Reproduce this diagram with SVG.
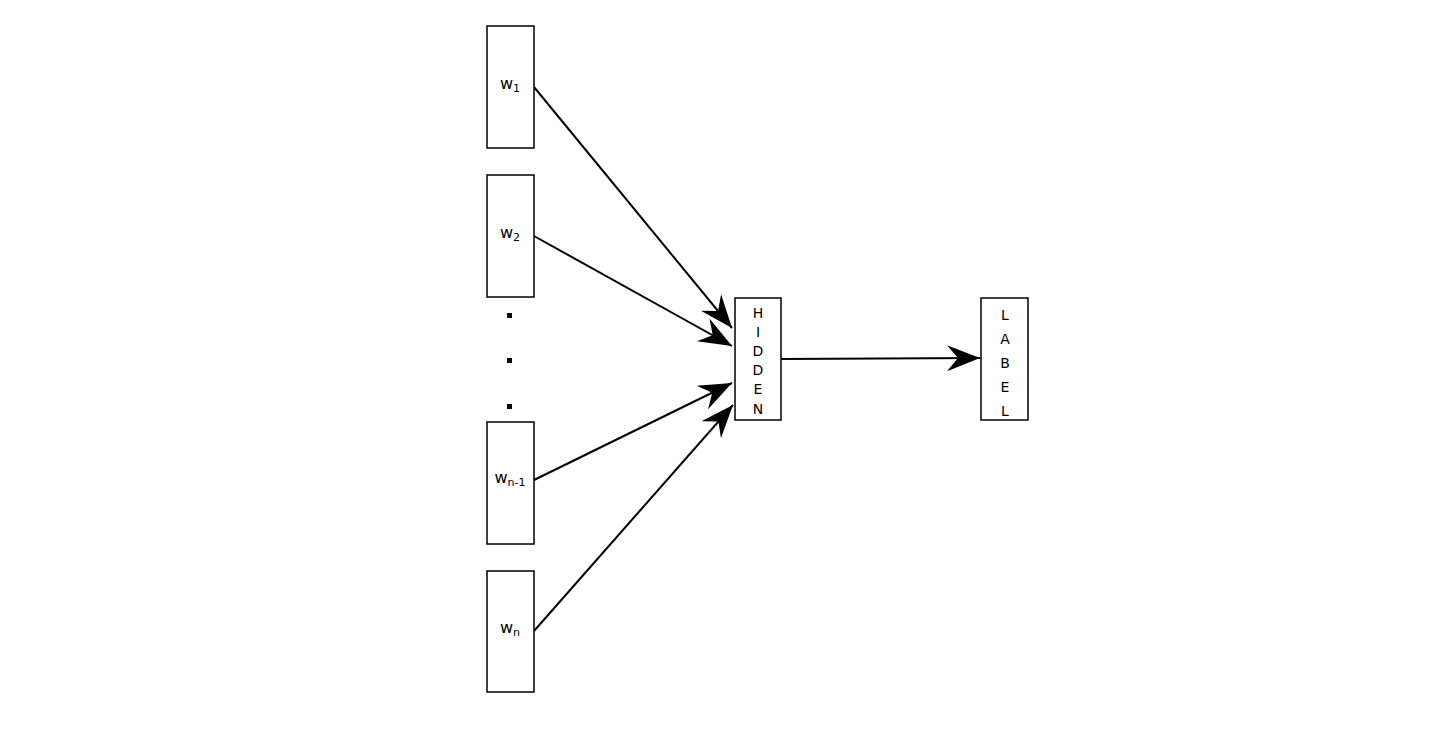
<svg xmlns="http://www.w3.org/2000/svg" width="1440" height="730" viewBox="0 0 1440 730">
<style>
.b{fill:#fff;stroke:#000;stroke-width:1.5}
.t{font-family:"DejaVu Sans",sans-serif;font-size:16px;fill:#000;text-anchor:middle}
.s{font-size:11px}
.v{font-family:"DejaVu Sans",sans-serif;font-size:14px;fill:#000;text-anchor:middle}
.c{stroke:#000;stroke-width:2;fill:none;marker-end:url(#a)}
</style>
<defs>
<marker id="a" markerUnits="userSpaceOnUse" markerWidth="36" markerHeight="30" viewBox="-33 -15 36 30" refX="0" refY="0" orient="auto">
<path d="M0,0 L-33,-13 L-22,0 L-33,13 z" fill="#000"/>
</marker>
</defs>
<rect width="1440" height="730" fill="#fff"/>
<g id="connectors">
<line class="c" x1="534" y1="87" x2="732" y2="328"/>
<line class="c" x1="534" y1="236" x2="732" y2="346"/>
<line class="c" x1="534" y1="480" x2="732" y2="383"/>
<line class="c" x1="534" y1="631" x2="733" y2="405"/>
<line class="c" x1="781" y1="359" x2="980" y2="358"/>
</g>
<g id="w1"><rect class="b" x="487" y="26" width="47" height="122"/><text class="t" x="510" y="89">w<tspan class="s" dy="3">1</tspan></text></g>
<g id="w2"><rect class="b" x="487" y="175" width="47" height="122"/><text class="t" x="510" y="238">w<tspan class="s" dy="3">2</tspan></text></g>
<g id="dots" fill="#000"><rect x="507" y="313" width="5" height="5"/><rect x="507" y="358" width="5" height="5"/><rect x="507" y="404" width="5" height="5"/></g>
<g id="wn1"><rect class="b" x="487" y="422" width="47" height="122"/><text class="t" x="510" y="483">w<tspan class="s" dy="3">n-1</tspan></text></g>
<g id="wn"><rect class="b" x="487" y="571" width="47" height="121"/><text class="t" x="510" y="633">w<tspan class="s" dy="3">n</tspan></text></g>
<g id="hidden"><rect class="b" x="735" y="298" width="46" height="122"/>
<text class="v" x="758" y="318">H</text><text class="v" x="758" y="337">I</text><text class="v" x="758" y="356">D</text><text class="v" x="758" y="375">D</text><text class="v" x="758" y="394">E</text><text class="v" x="758" y="414">N</text></g>
<g id="label"><rect class="b" x="981" y="298" width="47" height="122"/>
<text class="v" x="1005" y="320">L</text><text class="v" x="1005" y="344">A</text><text class="v" x="1005" y="368">B</text><text class="v" x="1005" y="392">E</text><text class="v" x="1005" y="416">L</text></g>
</svg>
